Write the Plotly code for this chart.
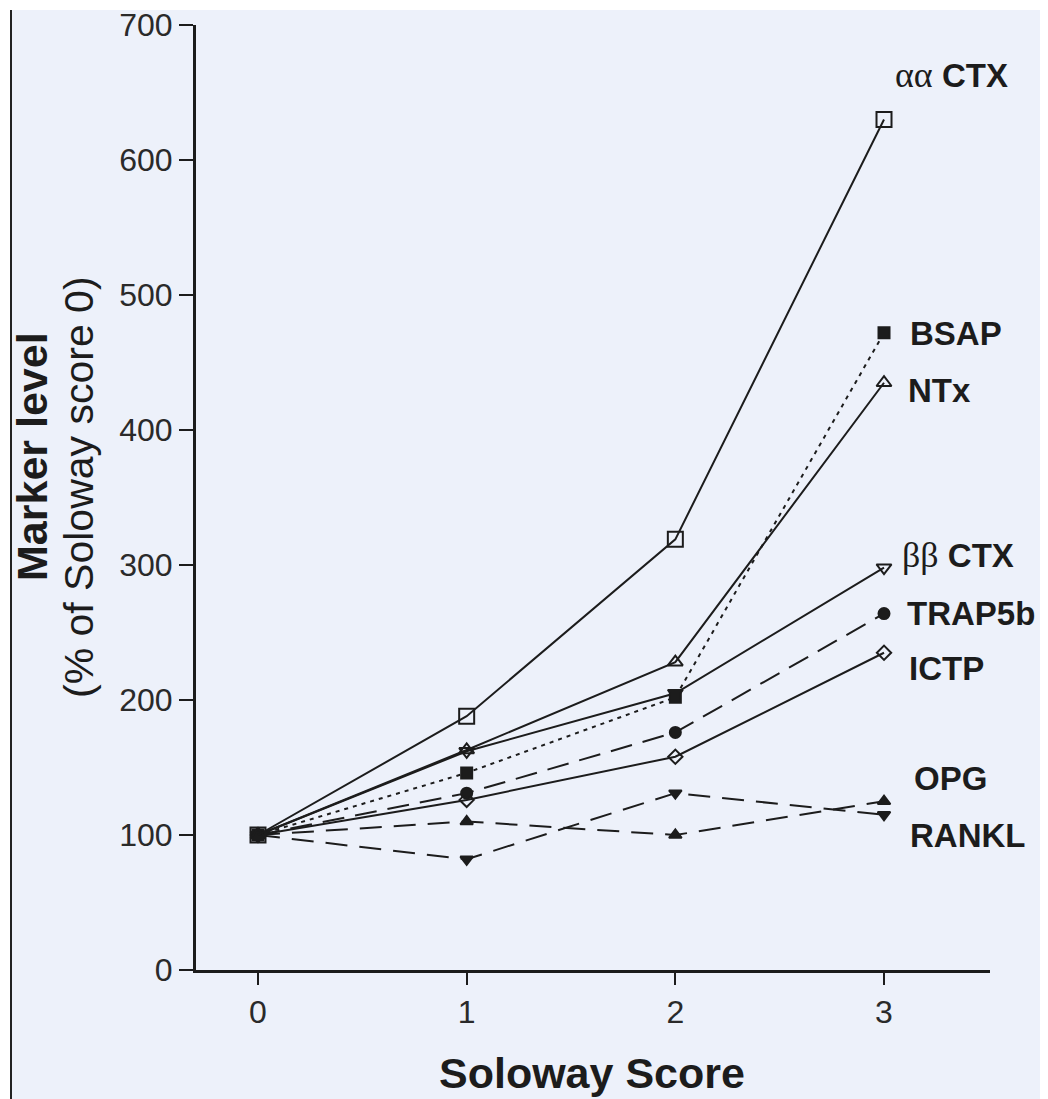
import plotly.graph_objects as go

scores = [0, 1, 2, 3]
aa_ctx = [100, 188, 319, 630]
ntx = [100, 163, 228, 435]
bsap = [100, 146, 202, 472]
bb_ctx = [100, 162, 205, 298]
trap5b = [100, 131, 176, 264]
ictp = [100, 126, 158, 235]
opg = [100, 110, 100, 125]
rankl = [100, 82, 131, 115]

x_ticks = [0, 1, 2, 3]
y_ticks = [0, 100, 200, 300, 400, 500, 600, 700]

INK = "#1c1c1c"
BG = "#edf1fa"

series = [
    ("OPG", opg, "22px,12px", "triangle-up", 11, INK),
    ("RANKL", rankl, "22px,12px", "triangle-down", 11, INK),
    ("ICTP", ictp, "solid", "diamond-open", 11, BG),
    ("TRAP5b", trap5b, "22px,11px", "circle", 11, INK),
    ("BB CTX", bb_ctx, "solid", "triangle-down-open", 13, BG),
    ("BSAP", bsap, "4px,5px", "square", 11, INK),
    ("NTx", ntx, "solid", "triangle-up-open", 13, BG),
    ("AA CTX", aa_ctx, "solid", "square-open", 15, BG),
]

fig = go.Figure()
for name, vals, dash, sym, size, fill in series:
    fig.add_trace(go.Scatter(
        x=scores, y=vals, name=name, mode="lines+markers",
        line=dict(color=INK, width=2, dash=dash),
        marker=dict(symbol=sym, size=size, color=INK,
                    line=dict(color=INK, width=2)),
        showlegend=False, cliponaxis=False,
    ))

# the page has an 8px body margin; work in page pixels
OFF = 8
FIG_W, FIG_H = 1048 - OFF, 1099 - OFF
PL, PR, PT, PB = 196, 990, 25, 970          # plot area in page pixels
L, T = PL - OFF, PT - OFF
R = FIG_W - (PR - OFF)
B = FIG_H - (PB - OFF)
PW, PH = PR - PL, PB - PT


def px(xp):
    return (xp - PL) / PW


def py(yp):
    return (PB - yp) / PH


# page background / border
fig.add_shape(type="rect", xref="paper", yref="paper", layer="below",
              x0=px(11), x1=px(1046), y0=py(1120), y1=py(10),
              fillcolor=BG, line=dict(width=0))
fig.add_shape(type="line", xref="paper", yref="paper",
              x0=px(11), x1=px(11), y0=py(1120), y1=py(10),
              line=dict(color="#222222", width=2))
fig.add_shape(type="line", xref="paper", yref="paper",
              x0=px(1046), x1=px(1046), y0=py(1120), y1=py(10),
              line=dict(color="#9a9a9a", width=2))

SANS = "Liberation Sans, Arial, sans-serif"

labels = [
    ('<span style="font-family:Liberation Serif;font-weight:normal;font-size:36px">αα</span> <b>CTX</b>', 893, 75),
    ("<b>BSAP</b>", 908, 333),
    ("<b>NTx</b>", 906, 390),
    ('<span style="font-family:Liberation Serif;font-weight:normal;font-size:36px">ββ</span> <b>CTX</b>', 900, 555),
    ("<b>TRAP5b</b>", 905, 613),
    ("<b>ICTP</b>", 907, 668),
    ("<b>OPG</b>", 912, 778),
    ("<b>RANKL</b>", 908, 835),
]
for txt, xl, yc in labels:
    fig.add_annotation(text=txt, xref="paper", yref="paper", x=px(xl), y=py(yc),
                       xanchor="left", yanchor="middle", showarrow=False,
                       font=dict(family=SANS, size=33, color=INK))

# axis titles
fig.add_annotation(text="<b>Marker level</b>", xref="paper", yref="paper",
                   x=px(32), y=py(457), textangle=-90, showarrow=False,
                   xanchor="center", yanchor="middle",
                   font=dict(family=SANS, size=43, color=INK))
fig.add_annotation(text="(% of Soloway score 0)", xref="paper", yref="paper",
                   x=px(79), y=py(487), textangle=-90, showarrow=False,
                   xanchor="center", yanchor="middle",
                   font=dict(family=SANS, size=41, color=INK))
fig.add_annotation(text="<b>Soloway Score</b>", xref="paper", yref="paper",
                   x=px(592), y=py(1073), showarrow=False,
                   xanchor="center", yanchor="middle",
                   font=dict(family=SANS, size=43, color=INK))

fig.update_layout(
    width=FIG_W, height=FIG_H,
    margin=dict(l=L, r=R, t=T, b=B, pad=0, autoexpand=False),
    paper_bgcolor="white", plot_bgcolor="rgba(0,0,0,0)",
    xaxis=dict(range=[(PL - 258) / 208.67, (PR - 258) / 208.67],
               tickvals=x_ticks, ticktext=[str(v) for v in x_ticks],
               showgrid=False, zeroline=False, showline=True, automargin=False,
               linecolor=INK, linewidth=3, ticks="outside", ticklen=12,
               tickwidth=2, tickcolor=INK,
               tickfont=dict(family="Liberation Sans Narrow, " + SANS, size=32, color="#2a2a2a")),
    yaxis=dict(range=[0, 700], tickvals=y_ticks,
               showgrid=False, zeroline=False, showline=True, automargin=False,
               linecolor=INK, linewidth=3, ticks="outside", ticklen=14,
               tickwidth=2, tickcolor=INK, ticklabeloverflow="allow",
               tickfont=dict(family=SANS, size=32, color="#2a2a2a")),
)

fig.write_html("out.html")
